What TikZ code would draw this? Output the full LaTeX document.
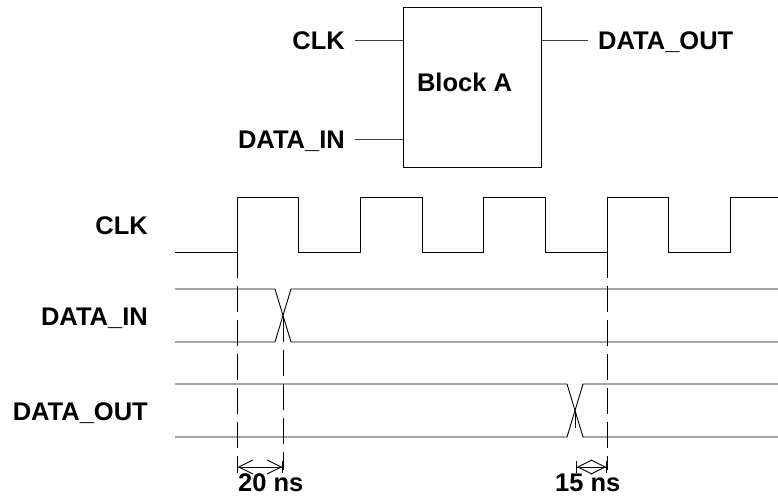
\documentclass[tikz,border=0pt]{standalone}
\usepackage{fontspec}
\setmainfont{Liberation Sans}
\usetikzlibrary{arrows.meta}
\tikzset{
  lbl/.style={inner sep=0pt, font=\fontsize{25.5}{30}\selectfont\bfseries},
  wire/.style={draw=black!75, line width=0.9pt},
  sig/.style={draw=black, line width=0.9pt},
  guide/.style={draw=black, line width=0.9pt, dash pattern=on 26pt off 8pt},
  dim/.style={draw=black, line width=0.9pt,
    {Bar[width=12pt]Straight Barb[length=14pt,width=14pt]}-{Straight Barb[length=14pt,width=14pt]Bar[width=12pt]}},
  blk/.style={draw=black, line width=1pt, minimum width=138pt, minimum height=159pt, inner sep=0pt}
}
\begin{document}
\begin{tikzpicture}[x=1pt,y=-1pt]
\useasboundingbox (0,0) rectangle (778,495);
% block diagram
\node[blk] (block) at (472,87.5) {};
\node[lbl, anchor=base] (blockA) at (464.5,91) {Block A};
\node[lbl, anchor=base east] (clkA) at (345,49) {CLK};
\node[lbl, anchor=base east] (dinA) at (345,148) {DATA\_IN};
\node[lbl, anchor=base west] (doutA) at (598,49) {DATA\_OUT};
\coordinate (clkAw) at (355,40);
\coordinate (dinAw) at (355,139);
\coordinate (doutAw) at (588,40);
\draw[wire] (clkAw) -- (clkAw -| block.west);
\draw[wire] (dinAw) -- (dinAw -| block.west);
\draw[wire] (doutAw -| block.east) -- (doutAw);
% timing labels
\node[lbl, anchor=base east] (clkT) at (148,234) {CLK};
\node[lbl, anchor=base east] (dinT) at (148,325) {DATA\_IN};
\node[lbl, anchor=base east] (doutT) at (148,420) {DATA\_OUT};
% clock
\draw[sig] (175,252) -- (237,252) -- (237,197) -- (298,197) -- (298,252)
  -- (360,252) -- (360,197) -- (422,197) -- (422,252)
  -- (483,252) -- (483,197) -- (545,197) -- (545,252)
  -- (607,252) -- (607,197) -- (668,197) -- (668,252)
  -- (730,252) -- (730,197) -- (778,197);
% data in
\draw[sig] (175,289) -- (275,289) -- (291,342) -- (778,342);
\draw[sig] (175,342) -- (275,342) -- (291,289) -- (778,289);
% data out
\draw[sig] (175,384) -- (567,384) -- (583,437) -- (778,437);
\draw[sig] (175,437) -- (567,437) -- (583,384) -- (778,384);
% guides
\coordinate (g1t) at (237,252); \coordinate (g1b) at (237,470);
\coordinate (g2t) at (283,316); \coordinate (g2b) at (283,470);
\coordinate (g3t) at (607,252); \coordinate (g3b) at (607,470);
\coordinate (g4t) at (575,411); \coordinate (g4b) at (575,428);
\draw[guide] (g1t) -- (g1b);
\draw[guide] (g2t) -- (g2b);
\draw[guide] (g3t) -- (g3b);
\draw[sig] (g4t) -- (g4b);
% dimensions
\coordinate (d1a) at (237,467); \coordinate (d1b) at (283,467);
\coordinate (d2a) at (576,467); \coordinate (d2b) at (607,467);
\draw[dim] (d1a) -- (d1b);
\draw[dim] (d2a) -- (d2b);
\node[lbl, anchor=base west] (t20) at (238,491) {20 ns};
\node[lbl, anchor=base west] (t15) at (555,491) {15 ns};
\end{tikzpicture}
\end{document}
